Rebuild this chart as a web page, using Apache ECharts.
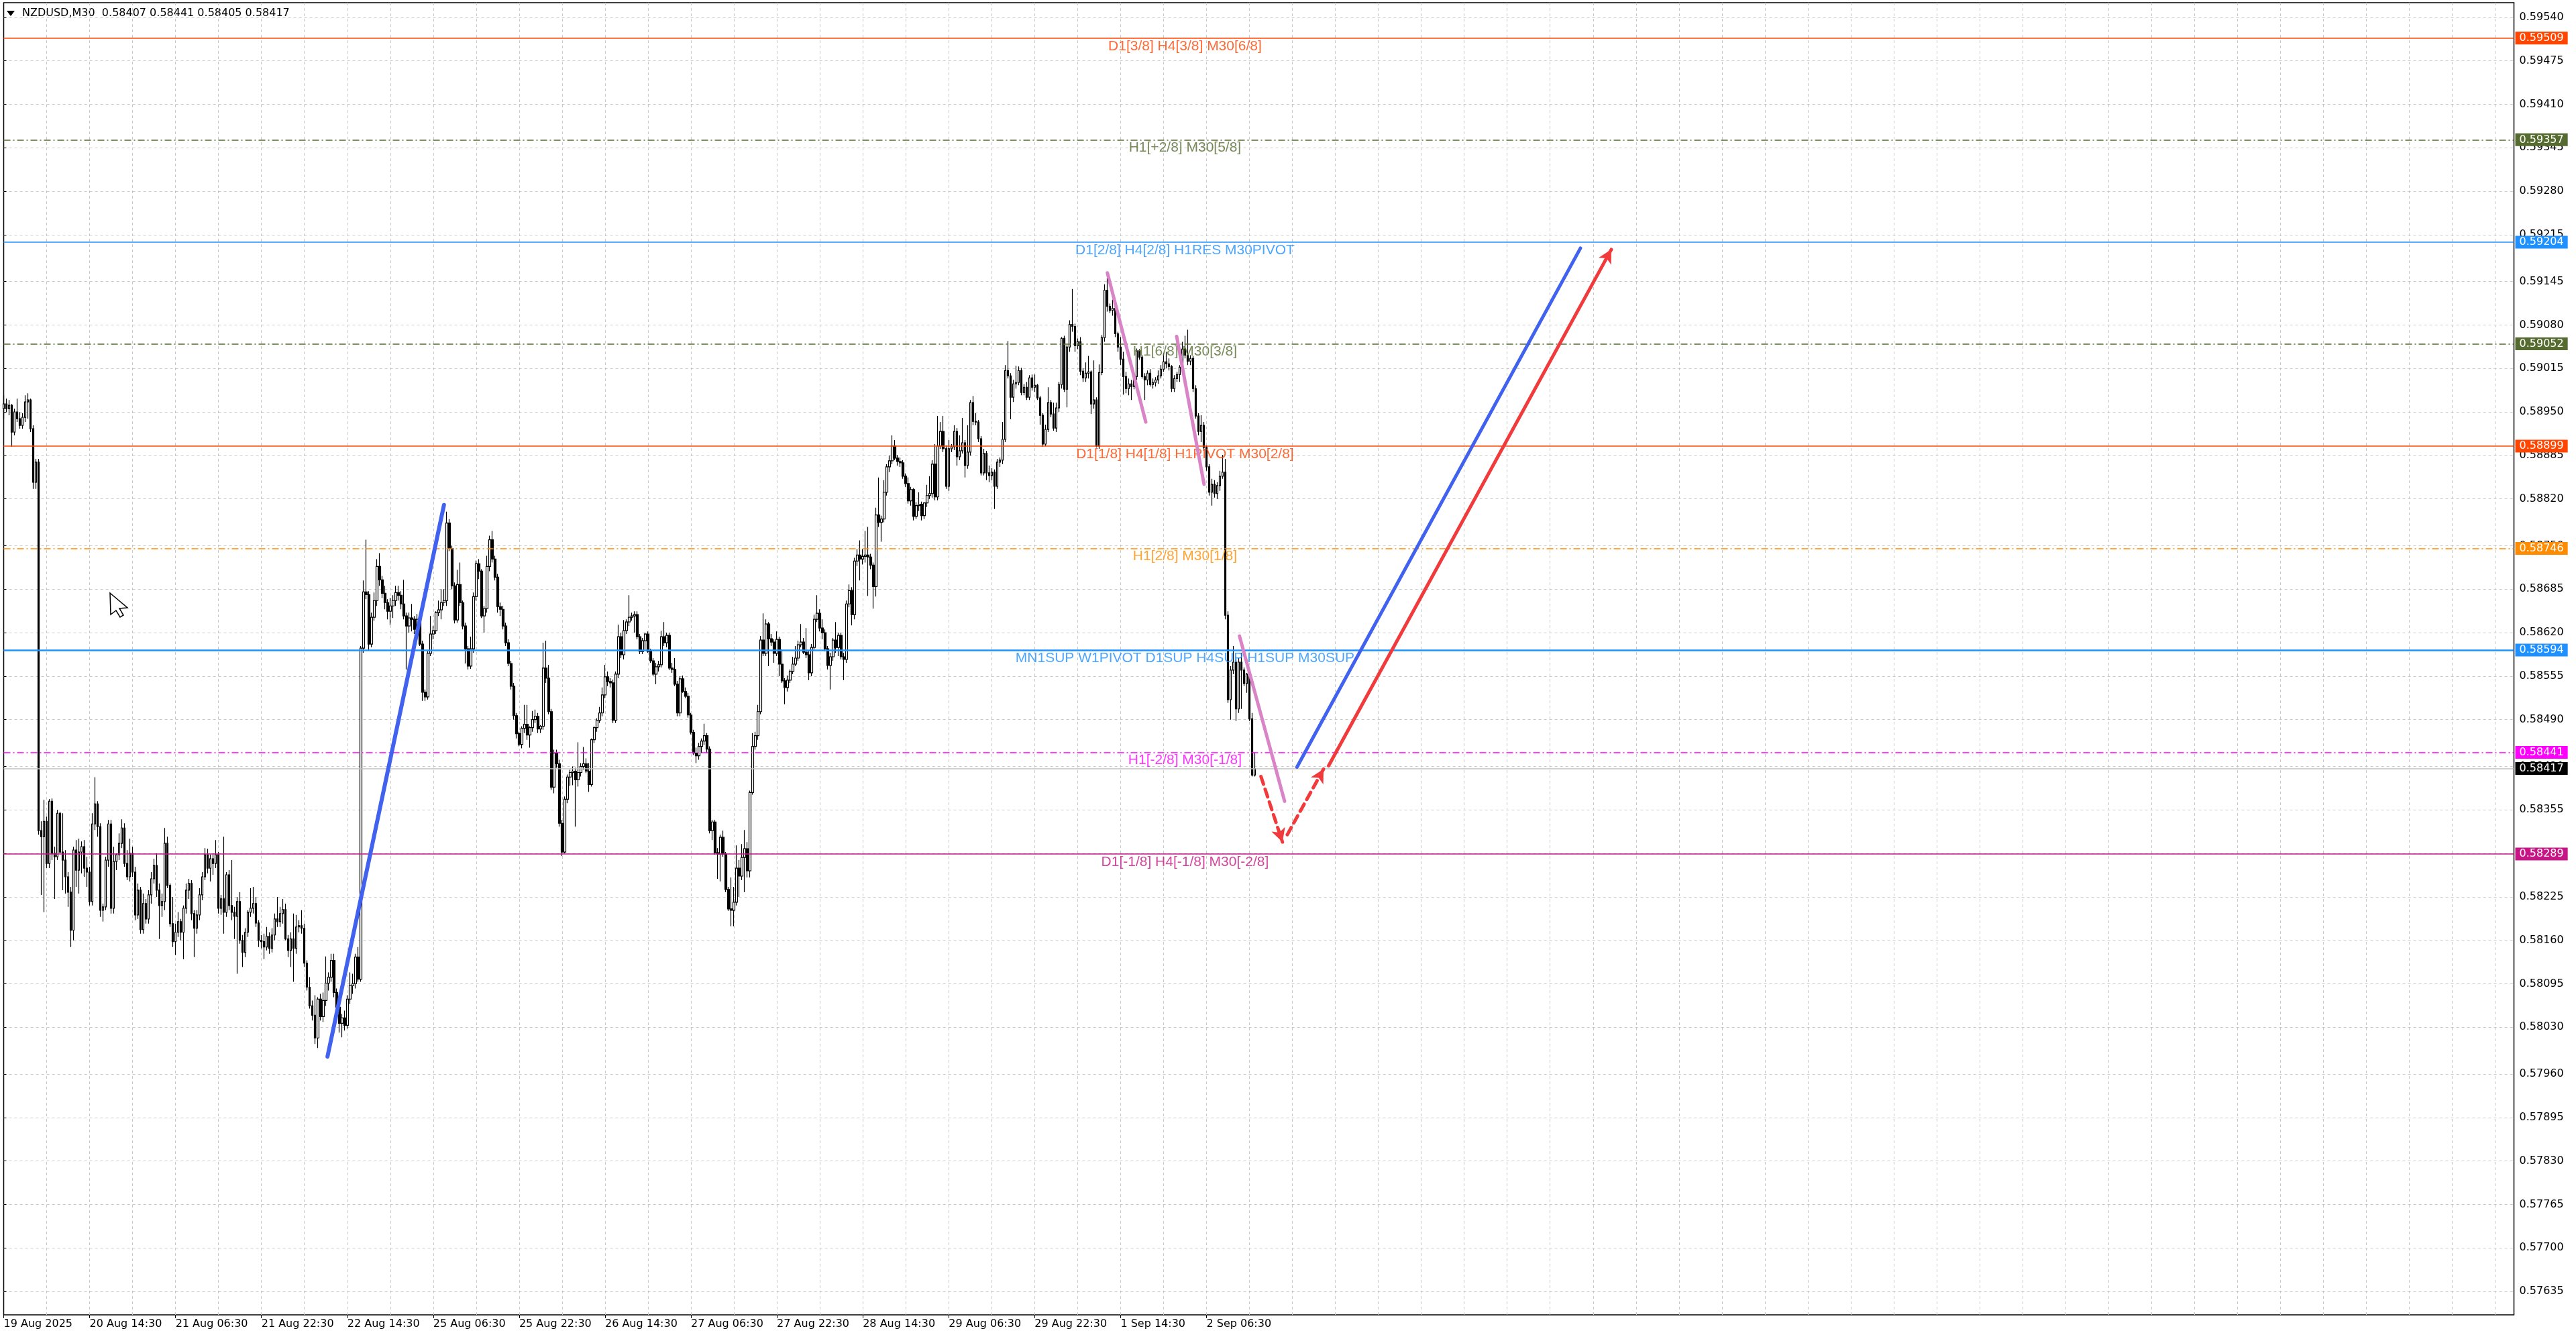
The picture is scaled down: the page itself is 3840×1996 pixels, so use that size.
<!DOCTYPE html>
<html><head><meta charset="utf-8">
<script src="https://cdn.jsdelivr.net/npm/echarts@6/dist/echarts.min.js"></script>
<style>html,body{margin:0;padding:0;background:#fff}#chart{width:3840px;height:1996px}</style>
</head><body><div id="chart"></div>
<script>
// OHLC in 1e-5 units: [open, high, low, close], one per M30 bar
const candles = [
[58955,58975,58940,58962],[58962,58970,58950,58955],[58955,58968,58945,58960],[58960,58962,58898,58920],[58920,58955,58915,58950],
[58950,58970,58935,58940],[58940,58950,58925,58930],[58930,58948,58925,58942],[58942,58975,58935,58965],[58965,58978,58940,58968],
[58968,58970,58920,58925],[58925,58930,58835,58845],[58845,58880,58835,58875],[58875,58880,58318,58324],
[58324,58338,58228,58315],[58315,58370,58202,58338],[58338,58345,58268,58275],[58275,58371,58268,58368],[58368,58372,58280,58290],
[58290,58300,58222,58285],[58285,58355,58280,58350],[58350,58352,58290,58292],[58292,58350,58235,58280],[58280,58295,58230,58255],
[58255,58262,58210,58232],[58232,58240,58150,58175],[58175,58300,58160,58295],[58295,58310,58240,58265],[58265,58312,58230,58292],
[58292,58308,58260,58300],[58300,58310,58255,58268],[58268,58285,58240,58262],[58262,58270,58212,58218],[58218,58350,58212,58334],
[58334,58404,58325,58364],[58364,58368,58315,58330],[58330,58335,58195,58205],[58205,58215,58188,58210],[58210,58285,58205,58280],
[58280,58340,58270,58334],[58334,58340,58200,58208],[58208,58300,58200,58278],[58278,58290,58265,58288],[58288,58320,58280,58305],
[58305,58341,58298,58328],[58328,58335,58270,58275],[58275,58295,58250,58255],[58255,58312,58248,58290],[58290,58300,58255,58262],
[58262,58270,58190,58198],[58198,58245,58192,58235],[58235,58240,58170,58176],[58176,58230,58170,58215],[58215,58222,58185,58192],
[58192,58235,58185,58228],[58228,58262,58215,58252],[58252,58282,58245,58272],[58272,58290,58225,58235],[58235,58245,58162,58212],
[58212,58230,58195,58218],[58218,58328,58205,58305],[58305,58315,58238,58242],[58242,58245,58180,58185],[58185,58225,58150,58158],
[58158,58185,58138,58172],[58172,58202,58165,58188],[58188,58192,58160,58172],[58172,58212,58132,58208],[58208,58245,58200,58235],
[58235,58252,58222,58245],[58245,58250,58190,58200],[58200,58205,58135,58178],[58178,58205,58170,58198],[58198,58238,58190,58228],
[58228,58262,58220,58255],[58255,58298,58250,58288],[58288,58297,58260,58268],[58268,58288,58248,58282],[58282,58290,58258,58275],
[58275,58310,58268,58288],[58288,58292,58200,58208],[58208,58228,58198,58222],[58222,58315,58170,58202],[58202,58262,58195,58258],
[58258,58265,58205,58212],[58212,58280,58190,58202],[58202,58210,58162,58196],[58196,58225,58110,58218],[58218,58232,58155,58160],
[58160,58168,58120,58142],[58142,58178,58135,58172],[58172,58205,58165,58202],[58202,58238,58195,58208],[58208,58240,58200,58215],
[58215,58225,58180,58186],[58186,58190,58150,58160],[58160,58168,58148,58158],[58158,58170,58132,58150],[58150,58180,58145,58166],
[58166,58172,58140,58148],[58148,58178,58142,58168],[58168,58200,58160,58192],[58192,58225,58180,58188],[58188,58210,58180,58200],
[58200,58222,58185,58206],[58206,58215,58160,58162],[58162,58168,58135,58145],[58145,58172,58120,58162],[58162,58200,58098,58148],
[58148,58198,58140,58180],[58180,58190,58172,58182],[58182,58205,58170,58178],[58178,58185,58120,58126],[58126,58130,58085,58090],
[58090,58105,58058,58062],[58062,58070,58040,58048],[58048,58078,58005,58014],[58014,58075,57999,58072],[58072,58080,58040,58046],
[58046,58082,58038,58070],[58070,58136,58062,58096],[58096,58112,58085,58105],[58105,58140,58098,58130],[58130,58140,58075,58082],
[58082,58088,58050,58060],[58060,58066,58022,58036],[58036,58050,58015,58044],[58044,58055,58025,58033],[58033,58078,58028,58072],
[58072,58112,58065,58092],[58092,58110,58080,58095],[58095,58140,58088,58135],[58135,58150,58098,58102],[58102,58600,58098,58597],
[58597,58698,58590,58681],[58681,58759,58670,58677],[58677,58682,58594,58603],[58603,58650,58598,58643],[58643,58680,58638,58668],
[58668,58730,58660,58719],[58719,58739,58690,58699],[58699,58705,58672,58679],[58679,58690,58655,58665],[58665,58670,58640,58652],
[58652,58672,58632,58660],[58660,58676,58642,58668],[58668,58690,58660,58680],[58680,58690,58668,58676],[58676,58682,58655,58663],
[58663,58699,58640,58645],[58645,58650,58565,58630],[58630,58650,58620,58642],[58642,58663,58622,58640],[58640,58645,58618,58625],
[58625,58648,58620,58640],[58640,58645,58600,58603],[58603,58608,58518,58531],[58531,58535,58518,58524],[58524,58592,58520,58589],
[58589,58645,58585,58618],[58618,58630,58610,58623],[58623,58652,58618,58650],[58650,58668,58645,58654],[58654,58685,58640,58665],
[58665,58685,58660,58668],[58668,58801,58660,58784],[58784,58790,58742,58746],[58746,58750,58685,58690],[58690,58695,58634,58639],
[58639,58714,58635,58692],[58692,58725,58660,58665],[58665,58668,58625,58630],[58630,58635,58574,58596],[58596,58600,58565,58570],
[58570,58614,58566,58596],[58596,58680,58590,58674],[58674,58728,58668,58723],[58723,58730,58700,58712],[58712,58715,58642,58645],
[58645,58660,58620,58656],[58656,58735,58650,58719],[58719,58765,58712,58759],[58759,58772,58725,58730],[58730,58735,58698,58703],
[58703,58708,58650,58659],[58659,58665,58645,58655],[58655,58660,58625,58630],[58630,58635,58600,58605],[58605,58610,58570,58574],
[58574,58578,58535,58540],[58540,58545,58490,58496],[58496,58500,58462,58469],[58469,58472,58450,58453],[58453,58480,58447,58477],
[58477,58512,58470,58483],[58483,58512,58460,58467],[58467,58480,58448,58478],[58478,58503,58472,58490],[58490,58505,58485,58495],
[58495,58500,58470,58476],[58476,58482,58470,58480],[58480,58605,58475,58567],[58567,58608,58545,58552],[58552,58572,58498,58502],
[58502,58506,58385,58389],[58389,58445,58380,58440],[58440,58445,58418,58424],[58424,58430,58330,58335],[58335,58340,58286,58292],
[58292,58375,58290,58371],[58371,58408,58365,58404],[58404,58415,58391,58411],[58411,58420,58392,58413],[58413,58418,58330,58400],
[58400,58456,58390,58411],[58411,58425,58405,58420],[58420,58449,58415,58424],[58424,58432,58410,58413],[58413,58425,58382,58393],
[58393,58462,58390,58460],[58460,58480,58455,58478],[58478,58492,58472,58489],[58489,58509,58485,58500],[58500,58538,58495,58527],
[58527,58572,58522,58554],[58554,58562,58540,58547],[58547,58552,58538,58545],[58545,58550,58485,58489],[58489,58562,58485,58558],
[58558,58632,58552,58614],[58614,58620,58582,58587],[58587,58639,58580,58623],[58623,58640,58618,58636],[58636,58676,58630,58643],
[58643,58650,58638,58645],[58645,58652,58620,58647],[58647,58652,58610,58614],[58614,58618,58588,58592],[58592,58612,58588,58608],
[58608,58620,58595,58618],[58618,58622,58590,58592],[58592,58596,58575,58578],[58578,58582,58555,58558],[58558,58575,58543,58569],
[58569,58578,58562,58572],[58572,58623,58568,58614],[58614,58636,58600,58605],[58605,58620,58598,58616],[58616,58620,58564,58567],
[58567,58575,58560,58565],[58565,58582,58540,58543],[58543,58548,58495,58500],[58500,58555,58495,58551],[58551,58556,58530,58532],
[58532,58538,58522,58525],[58525,58530,58493,58497],[58497,58500,58468,58471],[58471,58475,58437,58440],[58440,58448,58425,58436],
[58436,58455,58430,58450],[58450,58462,58440,58458],[58458,58484,58452,58466],[58466,58470,58440,58446],[58446,58450,58320,58324],
[58324,58340,58310,58337],[58337,58340,58288,58291],[58291,58298,58252,58289],[58289,58318,58248,58314],[58314,58324,58285,58289],
[58289,58292,58232,58236],[58236,58240,58204,58207],[58207,58254,58181,58205],[58205,58240,58181,58217],[58217,58302,58212,58268],
[58268,58280,58225,58256],[58256,58304,58250,58284],[58284,58325,58232,58297],[58297,58307,58254,58264],[58264,58384,58254,58381],
[58381,58470,58378,58450],[58450,58472,58445,58466],[58466,58512,58460,58502],[58502,58615,58498,58609],[58609,58649,58585,58589],
[58589,58640,58585,58633],[58633,58636,58570,58611],[58611,58618,58600,58606],[58606,58610,58575,58589],[58589,58622,58585,58610],
[58610,58614,58555,58573],[58573,58595,58545,58548],[58548,58552,58513,58538],[58538,58556,58532,58549],[58549,58565,58545,58562],
[58562,58584,58558,58573],[58573,58600,58570,58582],[58582,58608,58578,58602],[58602,58633,58598,58606],[58606,58612,58588,58591],
[58591,58627,58582,58587],[58587,58592,58549,58560],[58560,58603,58555,58598],[58598,58647,58595,58640],[58640,58676,58636,58649],
[58649,58655,58622,58627],[58627,58640,58610,58620],[58620,58625,58592,58596],[58596,58600,58565,58571],[58571,58590,58535,58584],
[58584,58612,58578,58609],[58609,58636,58590,58598],[58598,58620,58585,58616],[58616,58620,58580,58584],[58584,58590,58549,58580],
[58580,58668,58575,58663],[58663,58692,58658,58683],[58683,58688,58631,58647],[58647,58732,58640,58727],[58727,58745,58720,58736],
[58736,58758,58698,58730],[58730,58745,58722,58734],[58734,58772,58725,58736],[58736,58778,58675,58733],[58733,58738,58715,58721],
[58721,58725,58656,58689],[58689,58807,58674,58796],[58796,58852,58778,58785],[58785,58795,58756,58790],[58790,58848,58785,58830],
[58830,58872,58825,58868],[58868,58885,58860,58877],[58877,58915,58872,58899],[58899,58908,58878,58881],[58881,58886,58870,58876],
[58876,58882,58868,58874],[58874,58878,58850,58854],[58854,58858,58838,58843],[58843,58852,58813,58817],[58817,58838,58810,58834],
[58834,58836,58788,58794],[58794,58815,58790,58810],[58810,58830,58802,58812],[58812,58816,58788,58795],[58795,58815,58790,58814],
[58814,58841,58808,58825],[58825,58854,58820,58828],[58828,58878,58822,58872],[58872,58902,58818,58823],[58823,58944,58818,58899],
[58899,58935,58895,58921],[58921,58944,58890,58895],[58895,58900,58835,58839],[58839,58908,58832,58895],[58895,58902,58890,58898],
[58898,58930,58893,58921],[58921,58926,58870,58883],[58883,58915,58878,58892],[58892,58941,58888,58904],[58904,58908,58852,58870],
[58870,58930,58865,58890],[58890,58968,58885,58964],[58964,58974,58930,58936],[58936,58948,58930,58935],[58935,58938,58905,58910],
[58910,58914,58855,58859],[58859,58895,58855,58888],[58888,58892,58848,58859],[58859,58870,58845,58855],[58855,58866,58848,58860],
[58860,58864,58805,58839],[58839,58880,58835,58875],[58875,58882,58868,58878],[58878,58935,58872,58909],[58909,59020,58905,59012],
[59012,59056,59000,59004],[59004,59008,58939,58972],[58972,58998,58965,58992],[58992,59019,58985,58994],[58994,59018,58990,59012],
[59012,59016,58975,58979],[58979,58992,58975,58987],[58987,58995,58968,58972],[58972,59005,58968,59001],[59001,59006,58982,58987],
[58987,59006,58980,58990],[58990,58992,58968,58971],[58971,58974,58931,58945],[58945,58948,58898,58902],[58902,58931,58899,58924],
[58924,58987,58920,58964],[58964,58968,58942,58947],[58947,58964,58922,58926],[58926,58964,58920,58956],[58956,58995,58950,58991],
[58991,59062,58985,59060],[59060,59064,58980,58984],[58984,59050,58957,59047],[59047,59087,59040,59081],[59081,59134,59070,59078],
[59078,59082,59040,59049],[59049,59060,59044,59055],[59055,59062,59005,59011],[59011,59015,58995,59001],[59001,59024,58995,59008],
[59008,59034,59000,59010],[59010,59012,58947,58962],[58962,59027,58955,58968],[58968,58972,58897,58899],[58899,59021,58895,59009],
[59009,59065,59005,59061],[59061,59141,59055,59132],[59132,59150,59100,59108],[59108,59112,59098,59102],[59102,59118,59094,59105],
[59105,59108,59062,59067],[59067,59070,59040,59047],[59047,59062,59020,59029],[59029,59040,58976,59003],[59003,59010,58978,58985],
[58985,59000,58975,58992],[58992,58998,58968,58988],[58988,59008,58984,59003],[59003,59045,58998,59041],[59041,59044,59028,59032],
[59032,59035,59000,59003],[59003,59008,58968,58998],[58998,59012,58990,59008],[59008,59014,58988,58991],[58991,59000,58985,58994],
[58994,59002,58988,58998],[58998,59012,58992,59004],[59004,59020,59000,59014],[59014,59038,59010,59025],[59025,59040,59015,59022],
[59022,59030,59012,59018],[59018,59020,58980,58985],[58985,59005,58980,59000],[59000,59010,58995,59006],[59006,59020,58995,59017],
[59017,59055,59012,59044],[59044,59064,59030,59035],[59035,59073,59020,59026],[59026,59035,59020,59030],[59030,59034,58980,58985],
[58985,58990,58940,58944],[58944,58948,58915,58921],[58921,58945,58905,58930],[58930,58935,58892,58897],[58897,58900,58862,58868],
[58868,58872,58825,58830],[58830,58850,58810,58842],[58842,58848,58822,58828],[58828,58845,58820,58840],[58840,58862,58832,58854],
[58854,58886,58850,58860],[58860,58880,58640,58646],[58646,58652,58515,58520],[58520,58570,58490,58564],[58564,58600,58558,58576],
[58576,58580,58488,58506],[58506,58582,58500,58576],[58576,58590,58506,58564],[58564,58568,58540,58544],[58544,58560,58530,58558],
[58558,58562,58488,58491],[58491,58500,58405,58407],[58407,58441,58405,58417]
];
const slotCount = 936;
const xLabelBars = [0, 32, 64, 96, 128, 160, 192, 224, 256, 288, 320, 352, 384, 416, 448];
const xLabelTexts = ['19 Aug 2025','20 Aug 14:30','21 Aug 06:30','21 Aug 22:30','22 Aug 14:30','25 Aug 06:30','25 Aug 22:30','26 Aug 14:30','27 Aug 06:30','27 Aug 22:30','28 Aug 14:30','29 Aug 06:30','29 Aug 22:30','1 Sep 14:30','2 Sep 06:30'];
const yTicks = [0.59540,0.59475,0.59410,0.59345,0.59280,0.59215,0.59145,0.59080,0.59015,0.58950,0.58885,0.58820,0.58750,0.58685,0.58620,0.58555,0.58490,0.58420,0.58355,0.58290,0.58225,0.58160,0.58095,0.58030,0.57960,0.57895,0.57830,0.57765,0.57700,0.57635];
const levelPrices = [0.59509, 0.59357, 0.59204, 0.59052, 0.58899, 0.58746, 0.58594, 0.58441, 0.58289];
const levelTexts = ['D1[3/8] H4[3/8] M30[6/8]','H1[+2/8] M30[5/8]','D1[2/8] H4[2/8] H1RES M30PIVOT','H1[6/8] M30[3/8]','D1[1/8] H4[1/8] H1PIVOT M30[2/8]','H1[2/8] M30[1/8]','MN1SUP W1PIVOT D1SUP H4SUP H1SUP M30SUP','H1[-2/8] M30[-1/8]','D1[-1/8] H4[-1/8] M30[-2/8]'];
const levelColors = ['#FF4500','#556B2F','#1E90FF','#556B2F','#FF4500','#FF8C00','#1E90FF','#FF00FF','#C71585'];
const levelDash = ['solid','dashdot','solid','dashdot','solid','dashdot','solid','dashdot','solid'];
const levelWidth = [1.5,1.5,1.5,1.5,1.5,1.5,2.5,1.5,1.5];
const currentPrice = 0.58417;
const headerText = 'NZDUSD,M30  0.58407 0.58441 0.58405 0.58417';
// drawn objects: [barFrom, priceFrom, barTo, priceTo]
const trendBlueA = [120.6, 0.57986, 164.0, 0.58811];
const pinkLines = [[411.1, 0.59158, 425.4, 0.58935],[436.9, 0.59063, 447.1, 0.58842],[460.3, 0.58615, 477.1, 0.58368]];
const redDashed = [[468.3, 0.58405, 476.3, 0.58307],[478.1, 0.58318, 491.6, 0.58416]];
const projBlue = [481.7, 0.58419, 587.3, 0.59195];
const projRed = [493.5, 0.58421, 598.8, 0.59193];

const FONT = 'DejaVu Sans';
const cats = Array.from({length: slotCount}, (_, i) => String(i));
const labelMap = {};
xLabelBars.forEach((b, k) => { labelMap[b] = xLabelTexts[k]; });
const candleData = candles.map(c => [c[0] / 1e5, c[3] / 1e5, c[2] / 1e5, c[1] / 1e5]);
const dashDot = [10, 4, 2, 4];

function levelLine(p, color, width, type, boxColor) {
  return [
    { coord: [0, p], symbol: 'none', lineStyle: { color, width, type, opacity: 1 },
      label: { show: true, position: 'end', distance: 2, formatter: p.toFixed(5), color: '#fff',
        backgroundColor: boxColor, padding: [2, 6, 1, 6], fontSize: 16, fontFamily: FONT } },
    { coord: [slotCount - 1, p], symbol: 'none' }
  ];
}
const levelLines = levelPrices.map((p, k) =>
  levelLine(p, levelColors[k], levelWidth[k], levelDash[k] === 'solid' ? 'solid' : dashDot, levelColors[k]));
levelLines.push(levelLine(currentPrice, '#C0C0C0', 1.5, 'solid', '#000'));

function seg(s, color, width, type, arrow) {
  return [
    { coord: [s[0], s[1]], symbol: 'none', lineStyle: { color, width, type, cap: 'round', opacity: 1 }, label: { show: false } },
    { coord: [s[2], s[3]], symbol: arrow ? 'arrow' : 'none', symbolSize: arrow ? [16, 20] : 0 }
  ];
}
const annot = [];
annot.push(seg(trendBlueA, '#4062EE', 6, 'solid', false));
pinkLines.forEach(s => annot.push(seg(s, '#DA84C8', 5, 'solid', false)));
redDashed.forEach(s => annot.push(seg(s, '#F03A3C', 5, [12, 8], true)));
annot.push(seg(projBlue, '#4062EE', 5, 'solid', false));
annot.push(seg(projRed, '#F03A3C', 5, 'solid', true));

const chart = echarts.init(document.getElementById('chart'), null, { renderer: 'canvas' });
chart.setOption({
  animation: false,
  backgroundColor: '#fff',
  grid: { left: 5.5, right: 92.5, top: 4, bottom: 36, show: true, borderColor: '#000', borderWidth: 1.5, backgroundColor: '#fff' },
  xAxis: [{
    type: 'category', data: cats, boundaryGap: false,
    axisLine: { show: false },
    axisTick: { show: true, length: 5, interval: i => labelMap[i] !== undefined, lineStyle: { color: '#000' } },
    axisLabel: { show: true, interval: i => labelMap[i] !== undefined, formatter: (v, i) => labelMap[i] || '',
      align: 'left', margin: 6, fontSize: 16, fontFamily: FONT, color: '#000' },
    splitLine: { show: true, interval: i => i > 0 && i % 16 === 0, lineStyle: { color: '#C8C8C8', width: 1, type: [4, 4] } }
  }, {
    type: 'value', min: 0, max: slotCount - 1, show: false
  }],
  yAxis: {
    type: 'value', position: 'right', min: 0.57600, max: 0.59562, scale: true,
    axisLine: { show: false },
    axisTick: { show: true, length: 4, customValues: yTicks, lineStyle: { color: '#000' } },
    axisLabel: { show: true, customValues: yTicks, formatter: v => v.toFixed(5), margin: 8, fontSize: 16, fontFamily: FONT, color: '#000' },
    splitLine: { show: true, lineStyle: { color: '#C8C8C8', width: 1, type: [4, 4] } }
  },
  graphic: [
    { type: 'polygon', shape: { points: [[10, 16], [22, 16], [16, 24]] }, style: { fill: '#000' } },
    { type: 'text', left: 33, top: 12, style: { text: headerText, font: '16px "DejaVu Sans"', fill: '#000' } },
    { type: 'polygon', shape: { points: [[164, 884], [190, 906], [178, 907], [184, 917], [179, 920], [173, 910], [165, 916]] },
      style: { fill: '#fff', stroke: '#000', lineWidth: 1.5 }, z: 100 }
  ],
  series: [
    { name: 'levels', type: 'line', xAxisIndex: 1, yAxisIndex: 0, data: [], z: 1,
      markLine: { silent: true, symbol: ['none', 'none'], animation: false, data: levelLines } },
    { name: 'NZDUSD', type: 'candlestick', xAxisIndex: 0, yAxisIndex: 0, data: candleData, z: 3, barWidth: 3,
      itemStyle: { color: '#fff', color0: '#000', borderColor: '#000', borderColor0: '#000', borderWidth: 1.2 } },
    { name: 'levelText', type: 'scatter', xAxisIndex: 0, yAxisIndex: 0, z: 4, symbolSize: 1, silent: true,
      itemStyle: { color: 'rgba(0,0,0,0)' },
      data: levelPrices.map((p, k) => ({ value: [440, p],
        label: { show: true, position: 'bottom', distance: 1, formatter: levelTexts[k], color: levelColors[k], fontSize: 21, fontFamily: 'Liberation Sans' } })) },
    { name: 'objects', type: 'line', xAxisIndex: 1, yAxisIndex: 0, data: [], z: 5,
      markLine: { silent: true, animation: false, label: { show: false }, data: annot } }
  ]
});
</script></body></html>
